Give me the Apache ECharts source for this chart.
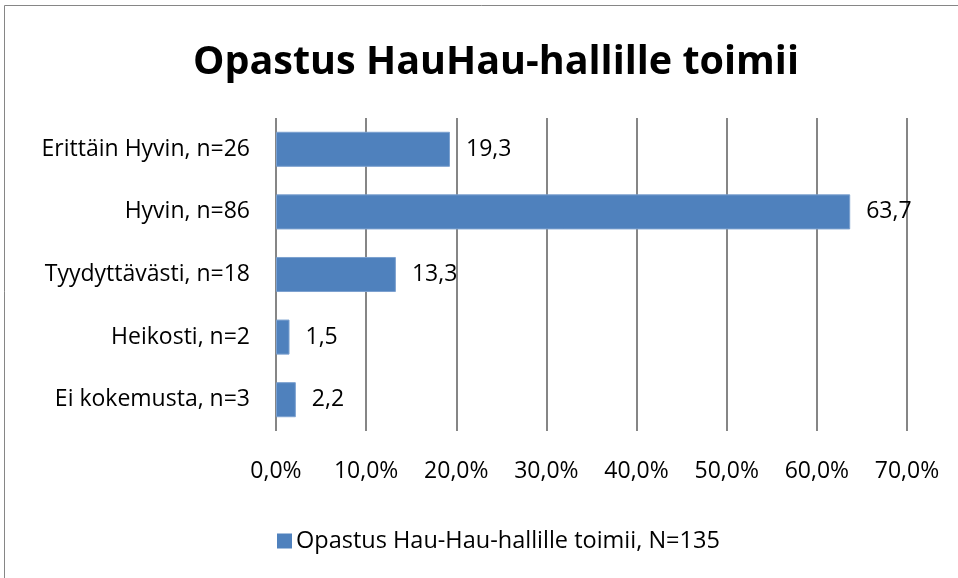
<!DOCTYPE html>
<html>
<head>
<meta charset="utf-8">
<script src="https://cdn.jsdelivr.net/npm/echarts@6/dist/echarts.min.js"></script>
<style>
  html, body { margin: 0; padding: 0; background: #fff; }
  #chart { width: 958px; height: 578px; }
</style>
</head>
<body>
<div id="chart"></div>
<script>
// categories listed bottom-up for the category y axis
const categories = [
  "Ei kokemusta, n=3",
  "Heikosti, n=2",
  "Tyydyttävästi, n=18",
  "Hyvin, n=86",
  "Erittäin Hyvin, n=26"
];
const values = [2.2, 1.5, 13.3, 63.7, 19.3];
const seriesName = "Opastus Hau-Hau-hallille toimii, N=135";
const titleText = "Opastus HauHau-hallille toimii";

const fontFamily = "'Open Sans', 'Liberation Sans', sans-serif";
const fmt = (v, d) => v.toFixed(d).replace(".", ",");

const myChart = echarts.init(document.getElementById("chart"));
myChart.setOption({
  animation: false,
  backgroundColor: "#fff",
  title: {
    text: titleText,
    left: 188,
    top: 38,
    textStyle: { fontSize: 39.5, fontWeight: "bold", color: "#000", fontFamily: fontFamily }
  },
  legend: {
    bottom: 20,
    left: 272,
    itemWidth: 15,
    itemHeight: 15,
    itemGap: 4,
    icon: "rect",
    itemStyle: { borderWidth: 0 },
    textStyle: { fontSize: 23.5, color: "#000", fontFamily: fontFamily, padding: [0, 0, 0, -1] },
    data: [seriesName]
  },
  grid: { left: 276, right: 51, top: 118, height: 313, containLabel: false },
  xAxis: {
    type: "value",
    min: 0,
    max: 70,
    interval: 10,
    axisLine: { show: false },
    axisTick: { show: false },
    splitLine: { show: true, lineStyle: { color: "#868686", width: 2 } },
    axisLabel: {
      margin: 29,
      fontSize: 23,
      color: "#000",
      fontFamily: fontFamily,
      formatter: (v) => fmt(v, 1) + "%"
    }
  },
  yAxis: {
    type: "category",
    data: categories,
    axisLine: { show: false },
    axisTick: { show: false },
    axisLabel: { margin: 26, fontSize: 23, color: "#000", fontFamily: fontFamily }
  },
  series: [
    {
      name: seriesName,
      type: "bar",
      data: values,
      barWidth: "56%",
      itemStyle: { color: "#4f81bd", borderColor: "#7ba0cf", borderWidth: 1 },
      label: {
        show: true,
        position: "right",
        distance: 16,
        fontSize: 23,
        color: "#000",
        fontFamily: fontFamily,
        formatter: (p) => fmt(p.value, 1)
      }
    }
  ],
  graphic: [
    { type: "line", shape: { x1: 4.5, y1: 5.5, x2: 958, y2: 5.5 }, style: { stroke: "#868686", lineWidth: 1 } },
    { type: "line", shape: { x1: 4.5, y1: 5.5, x2: 4.5, y2: 578 }, style: { stroke: "#868686", lineWidth: 1 } }
  ]
});
</script>
</body>
</html>
